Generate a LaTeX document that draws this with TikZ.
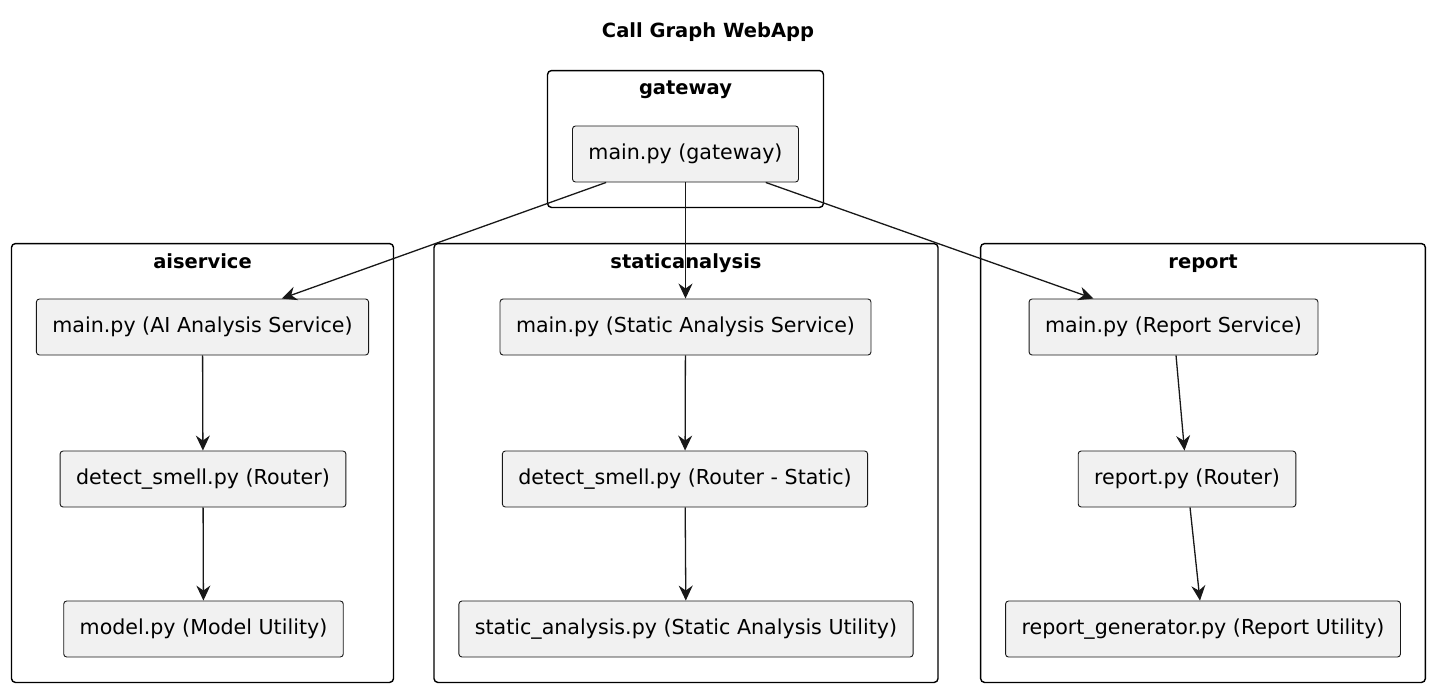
\documentclass[tikz,border=0pt]{standalone}
\usepackage{fontspec}
\setmainfont{DejaVu Sans}
\usetikzlibrary{arrows.meta,fit}
\definecolor{nodefill}{HTML}{F1F1F1}
\definecolor{edgeline}{HTML}{181818}
\begin{document}
\begin{tikzpicture}[
            x=1pt, y=1pt,
            box/.style={draw=edgeline, line width=0.9pt, rounded corners=3pt, fill=nodefill,
                    minimum height=56pt, inner xsep=16pt, font=\fontsize{20.6}{24}\selectfont},
            pkg/.style={draw=black, line width=1.4pt, rounded corners=4pt,
                    inner xsep=24.5pt, inner ysep=25pt},
            pkgtitle/.style={font=\fontsize{19.5}{23}\selectfont\bfseries, anchor=base},
            arrow/.style={-{Stealth[length=15pt, width=14pt, inset=5pt]}, line width=1.3pt, draw=edgeline}
        ]
        \useasboundingbox (0,0) rectangle (1437,-689);
        \node[pkgtitle] (title) at (708,-37) {Call Graph WebApp};

        \node[box] (gwmain) at (685.5,-154) {main.py (gateway)};

        \node[box] (aimain) at (202.5,-327) {main.py (AI Analysis Service)};
        \node[box] (aismell) at (203,-479) {detect\_smell.py (Router)};
        \node[box] (aimodel) at (203.5,-629) {model.py (Model Utility)};

        \node[box] (samain) at (685.5,-327) {main.py (Static Analysis Service)};
        \node[box] (sasmell) at (685,-479) {detect\_smell.py (Router - Static)};
        \node[box] (sautil) at (686,-629) {static\_analysis.py (Static Analysis Utility)};

        \node[box] (rpmain) at (1173.5,-327) {main.py (Report Service)};
        \node[box] (rprouter) at (1187,-479) {report.py (Router)};
        \node[box] (rpgen) at (1203,-629) {report\_generator.py (Report Utility)};

        % packages
        \coordinate (gwtop) at ([yshift=30]gwmain.north);
        \coordinate (aitop) at ([yshift=30]aimain.north);
        \coordinate (satop) at ([yshift=30]samain.north);
        \coordinate (rptop) at ([yshift=30]rpmain.north);
        \node[pkg, fit=(gwmain) (gwtop)] (gateway) {};
        \node[pkg, fit=(aimain) (aismell) (aimodel) (aitop)] (aiservice) {};
        \node[pkg, fit=(samain) (sasmell) (sautil) (satop)] (staticanalysis) {};
        \node[pkg, fit=(rpmain) (rprouter) (rpgen) (rptop)] (report) {};

        \node[pkgtitle] (gwtitle) at ([yshift=-25]gateway.north) {gateway};
        \node[pkgtitle] (aititle) at ([yshift=-26]aiservice.north) {aiservice};
        \node[pkgtitle] (satitle) at ([yshift=-26]staticanalysis.north) {staticanalysis};
        \node[pkgtitle] (rptitle) at ([yshift=-26]report.north) {report};

        \draw[arrow] (gwmain) -- (aimain);
        \draw[arrow] (gwmain) -- (samain);
        \draw[arrow] (gwmain) -- (rpmain);
        \draw[arrow] (aimain) -- (aismell);
        \draw[arrow] (aismell) -- (aimodel);
        \draw[arrow] (samain) -- (sasmell);
        \draw[arrow] (sasmell) -- (sautil);
        \draw[arrow] (rpmain) -- (rprouter);
        \draw[arrow] (rprouter) -- (rpgen);
    \end{tikzpicture}
\end{document}
